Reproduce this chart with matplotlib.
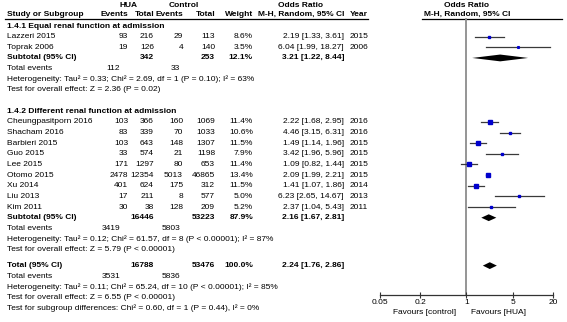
import numpy as np
import matplotlib
matplotlib.use("Agg")
import matplotlib.pyplot as plt

plt.rcParams["font.family"] = ["Liberation Sans", "DejaVu Sans"]
FS = 6.0

# %% data
studies1 = ["Lazzeri 2015", "Toprak 2006"]
hua_events1 = [93, 19]
hua_total1 = [216, 126]
ctrl_events1 = [29, 4]
ctrl_total1 = [113, 140]
weight1 = [8.6, 3.5]
or1 = [2.19, 6.04]
lo1 = [1.33, 1.99]
hi1 = [3.61, 18.27]
year1 = [2015, 2006]

studies2 = ["Cheungpasitporn 2016", "Shacham 2016", "Barbieri 2015", "Guo 2015",
            "Lee 2015", "Otomo 2015", "Xu 2014", "Liu 2013", "Kim 2011"]
hua_events2 = [103, 83, 103, 33, 171, 2478, 401, 17, 30]
hua_total2 = [366, 339, 643, 574, 1297, 12354, 624, 211, 38]
ctrl_events2 = [160, 70, 148, 21, 80, 5013, 175, 8, 128]
ctrl_total2 = [1069, 1033, 1307, 1198, 653, 46865, 312, 577, 209]
weight2 = [11.4, 10.6, 11.5, 7.9, 11.4, 13.4, 11.5, 5.0, 5.2]
or2 = [2.22, 4.46, 1.49, 3.42, 1.09, 2.09, 1.41, 6.23, 2.37]
lo2 = [1.68, 3.15, 1.14, 1.96, 0.82, 1.99, 1.07, 2.65, 1.04]
hi2 = [2.95, 6.31, 1.96, 5.96, 1.44, 2.21, 1.86, 14.67, 5.43]
year2 = [2016, 2016, 2015, 2015, 2015, 2015, 2014, 2013, 2011]

# subtotal / total: [hua total, ctrl total, weight, or, lo, hi, hua events, ctrl events]
sub1 = [342, 253, 12.1, 3.21, 1.22, 8.44, 112, 33]
sub2 = [16446, 53223, 87.9, 2.16, 1.67, 2.81, 3419, 5803]
overall = [16788, 53476, 100.0, 2.24, 1.76, 2.86, 3531, 5836]

het1 = "Heterogeneity: Tau² = 0.33; Chi² = 2.69, df = 1 (P = 0.10); I² = 63%"
test1 = "Test for overall effect: Z = 2.36 (P = 0.02)"
het2 = "Heterogeneity: Tau² = 0.12; Chi² = 61.57, df = 8 (P < 0.00001); I² = 87%"
test2 = "Test for overall effect: Z = 5.79 (P < 0.00001)"
het_all = "Heterogeneity: Tau² = 0.11; Chi² = 65.24, df = 10 (P < 0.00001); I² = 85%"
test_all = "Test for overall effect: Z = 6.55 (P < 0.00001)"
test_sub = "Test for subgroup differences: Chi² = 0.60, df = 1 (P = 0.44), I² = 0%"

ticks = [0.05, 0.2, 1, 5, 20]
tick_labels = ["0.05", "0.2", "1", "5", "20"]

# %% layout (pixel coordinates)
W, H = 567, 322
X_STUDY, X_HE, X_HT, X_CE, X_CT, X_W, X_OR, X_YEAR = 7, 128, 154, 183, 215, 253, 344, 350
X_TE_H, X_TE_C = 120, 180
STEP = 10.65
Y0 = 26.0


def row_y(i):
    return Y0 + i * STEP


fig = plt.figure(figsize=(W / 100, H / 100), dpi=100)
ax = fig.add_axes([0, 0, 1, 1])
ax.set_xlim(0, W)
ax.set_ylim(H, 0)
ax.axis("off")

fa = fig.add_axes([380 / W, 0, 173 / W, 1])
fa.set_xscale("log")
fa.set_xlim(0.05, 20)
fa.set_ylim(H, 0)
fa.patch.set_alpha(0)
for s in ["top", "left", "right"]:
    fa.spines[s].set_visible(False)
fa.spines["bottom"].set_position(("data", 294.5))
fa.spines["bottom"].set_bounds(0.05, 20)
fa.spines["bottom"].set_linewidth(0.9)
fa.spines["bottom"].set_color("#333333")
fa.set_yticks([])
fa.set_xticks(ticks)
fa.set_xticklabels(tick_labels)
fa.minorticks_off()
fa.tick_params(axis="x", direction="inout", length=4, width=0.8, pad=1.0,
               labelsize=FS, colors="#333333", labelcolor="black")


def txt(x, y, s, ha="left", bold=False):
    ax.text(x, y, s, ha=ha, va="center", fontsize=FS,
            fontweight="bold" if bold else "normal")


# headers
txt(129, 5, "HUA", ha="center", bold=True)
txt(184, 5, "Control", ha="center", bold=True)
txt(300, 5, "Odds Ratio", ha="center", bold=True)
txt(466, 5, "Odds Ratio", ha="center", bold=True)
txt(X_STUDY, 14.5, "Study or Subgroup", bold=True)
txt(X_HE, 14.5, "Events", ha="right", bold=True)
txt(X_HT, 14.5, "Total", ha="right", bold=True)
txt(X_CE, 14.5, "Events", ha="right", bold=True)
txt(X_CT, 14.5, "Total", ha="right", bold=True)
txt(X_W, 14.5, "Weight", ha="right", bold=True)
txt(X_OR, 14.5, "M-H, Random, 95% CI", ha="right", bold=True)
txt(X_YEAR, 14.5, "Year", bold=True)
txt(467, 14.5, "M-H, Random, 95% CI", ha="center", bold=True)
ax.plot([5, 368], [19, 19], color="black", lw=0.9)
ax.plot([422, 562], [19, 19], color="black", lw=0.9)

# null line
fa.plot([1, 1], [19, 294.5], color="#8c8c8c", lw=1.3, zorder=1)


def study_rows(i0, names, he, ht, ce, ct, w, orr, lo, hi, yr):
    for k in range(len(names)):
        y = row_y(i0 + k)
        txt(X_STUDY, y, names[k])
        txt(X_HE, y, str(he[k]), ha="right")
        txt(X_HT, y, str(ht[k]), ha="right")
        txt(X_CE, y, str(ce[k]), ha="right")
        txt(X_CT, y, str(ct[k]), ha="right")
        txt(X_W, y, f"{w[k]:.1f}%", ha="right")
        txt(X_OR, y, f"{orr[k]:.2f} [{lo[k]:.2f}, {hi[k]:.2f}]", ha="right")
        txt(X_YEAR, y, str(yr[k]))
        fa.plot([lo[k], hi[k]], [y, y], color="#3a3a3a", lw=0.9, zorder=2)
        fa.plot(orr[k], y, marker="s", color="#0000cc", ls="none",
                markersize=0.65 * np.sqrt(w[k]), zorder=3)


def summary_rows(i, label, s, het, test):
    y = row_y(i)
    txt(X_STUDY, y, label, bold=True)
    txt(X_HT, y, str(s[0]), ha="right", bold=True)
    txt(X_CT, y, str(s[1]), ha="right", bold=True)
    txt(X_W, y, f"{s[2]:.1f}%", ha="right", bold=True)
    txt(X_OR, y, f"{s[3]:.2f} [{s[4]:.2f}, {s[5]:.2f}]", ha="right", bold=True)
    h = 3.4
    fa.fill([s[4], s[3], s[5], s[3]], [y, y - h, y, y + h], color="black",
            lw=0, zorder=3)
    y = row_y(i + 1)
    txt(X_STUDY, y, "Total events")
    txt(X_TE_H, y, str(s[6]), ha="right")
    txt(X_TE_C, y, str(s[7]), ha="right")
    txt(X_STUDY, row_y(i + 2), het)
    txt(X_STUDY, row_y(i + 3), test)


txt(X_STUDY, row_y(0), "1.4.1 Equal renal function at admission", bold=True)
study_rows(1, studies1, hua_events1, hua_total1, ctrl_events1, ctrl_total1,
           weight1, or1, lo1, hi1, year1)
summary_rows(3, "Subtotal (95% CI)", sub1, het1, test1)

txt(X_STUDY, row_y(8), "1.4.2 Different renal function at admission", bold=True)
study_rows(9, studies2, hua_events2, hua_total2, ctrl_events2, ctrl_total2,
           weight2, or2, lo2, hi2, year2)
summary_rows(18, "Subtotal (95% CI)", sub2, het2, test2)

summary_rows(22.5, "Total (95% CI)", overall, het_all, test_all)
txt(X_STUDY, row_y(26.5), test_sub)

txt(456, 312.5, "Favours [control]", ha="right")
txt(471, 312.5, "Favours [HUA]")

fig.savefig("out.png", dpi=100, facecolor="white")
